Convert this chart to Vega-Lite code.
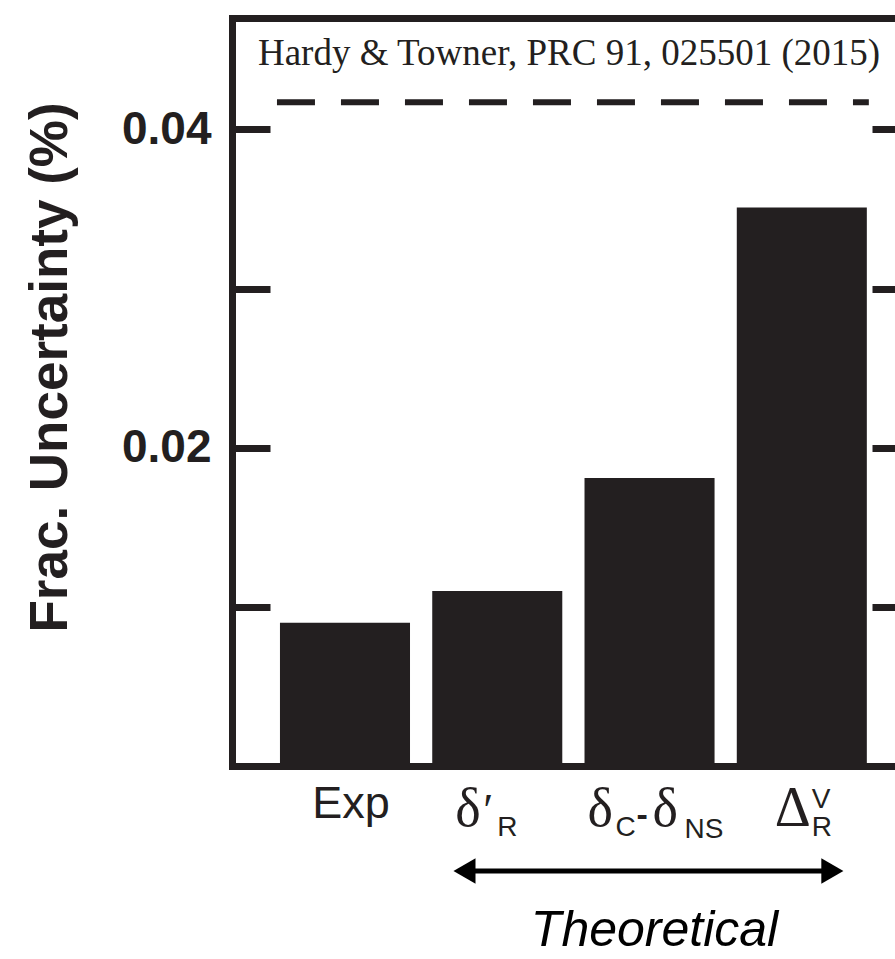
{
  "$schema": "https://vega.github.io/schema/vega-lite/v6.json",
  "width": 663,
  "height": 748,
  "autosize": {"type": "none"},
  "padding": {"left": 232, "top": 18, "right": 0, "bottom": 193},
  "background": "white",
  "config": {
    "view": {"stroke": null},
    "font": "Liberation Sans",
    "axis": {"domainColor": "#231f20", "tickColor": "#231f20", "labelColor": "#231f20", "titleColor": "#231f20", "grid": false}
  },
  "datasets": {
    "bars": [
      {"cat": "Exp", "val": 0.009},
      {"cat": "δ′R", "val": 0.011},
      {"cat": "δC-δNS", "val": 0.0181},
      {"cat": "ΔRV", "val": 0.0351}
    ],
    "limit": [{"level": 0.0417}]
  },
  "resolve": {"axis": {"x": "independent", "y": "independent"}},
  "layer": [
    {
      "data": {"name": "bars"},
      "mark": {"type": "bar", "color": "#231f20"},
      "encoding": {
        "x": {
          "field": "cat", "type": "nominal", "sort": null,
          "scale": {"domain": ["Exp", "δ′R", "δC-δNS", "ΔRV"], "paddingInner": 0.146, "paddingOuter": 0.25, "align": 0.63},
          "axis": {"orient": "bottom", "domain": true, "domainWidth": 7, "domainCap": "square", "ticks": false, "labels": false, "title": null}
        },
        "y": {
          "field": "val", "type": "quantitative",
          "scale": {"domain": [0, 0.047], "nice": false, "zero": true},
          "axis": {
            "orient": "left", "values": [0.01, 0.02, 0.03, 0.04], "format": ".2f",
            "labelExpr": "(datum.label == '0.02' || datum.label == '0.04') ? datum.label : ''",
            "domain": true, "domainWidth": 7, "domainCap": "square",
            "ticks": true, "tickSize": -38, "tickWidth": 7,
            "labelFont": "Liberation Sans", "labelFontWeight": "bold", "labelFontSize": 46, "labelPadding": 59,
            "title": "Frac. Uncertainty (%)", "titleFont": "Liberation Sans", "titleFontWeight": "bold", "titleFontSize": 53,
            "titleX": -182, "titleY": 349, "titleAngle": -90, "titleAlign": "center", "titleBaseline": "middle"
          }
        }
      }
    },
    {
      "data": {"name": "limit"},
      "mark": {"type": "rule", "strokeDash": [38, 26], "strokeWidth": 6, "color": "#231f20", "xOffset": -3, "x2Offset": 2},
      "encoding": {
        "x": {"datum": "Exp", "bandPosition": 0, "axis": {"orient": "top", "domain": true, "domainWidth": 7, "domainCap": "square", "ticks": false, "labels": false, "title": null}},
        "x2": {"datum": "ΔRV", "bandPosition": 1},
        "y": {"field": "level", "type": "quantitative", "axis": {"orient": "right", "values": [0.01, 0.02, 0.03, 0.04], "domain": false, "ticks": true, "tickSize": -23, "tickWidth": 7, "labels": false, "title": null}}
      }
    },
    {
      "data": {"values": [{"note": "Hardy & Towner, PRC 91, 025501 (2015)"}]},
      "mark": {"type": "text", "font": "Liberation Serif", "fontSize": 37, "align": "left", "baseline": "alphabetic", "dx": -22, "color": "#231f20"},
      "encoding": {
        "x": {"datum": "Exp", "bandPosition": 0, "axis": null},
        "y": {"datum": 0.04405, "axis": null},
        "text": {"field": "note"}
      }
    },
    {
      "data": {"values": [{"cat": "Exp", "txt": "Exp"}]},
      "mark": {"type": "text", "font": "Liberation Sans", "fontSize": 45, "align": "center", "baseline": "alphabetic", "dx": 6, "color": "#231f20"},
      "encoding": {"x": {"field": "cat", "type": "nominal", "axis": null}, "y": {"datum": -0.00327, "axis": null}, "text": {"field": "txt"}}
    },
    {
      "data": {"values": [{"cat": "δ′R", "txt": "δ"}]},
      "mark": {"type": "text", "font": "Liberation Serif", "fontSize": 54, "align": "left", "baseline": "alphabetic", "dx": -42, "color": "#231f20"},
      "encoding": {"x": {"field": "cat", "type": "nominal", "axis": null}, "y": {"datum": -0.00377, "axis": null}, "text": {"field": "txt"}}
    },
    {
      "data": {"values": [{"cat": "δ′R", "txt": "′"}]},
      "mark": {"type": "text", "font": "Liberation Serif", "fontSize": 46, "align": "left", "baseline": "alphabetic", "dx": -14, "color": "#231f20"},
      "encoding": {"x": {"field": "cat", "type": "nominal", "axis": null}, "y": {"datum": -0.00377, "axis": null}, "text": {"field": "txt"}}
    },
    {
      "data": {"values": [{"cat": "δ′R", "txt": "R"}]},
      "mark": {"type": "text", "font": "Liberation Sans", "fontSize": 28, "align": "left", "baseline": "alphabetic", "dx": 0, "color": "#231f20"},
      "encoding": {"x": {"field": "cat", "type": "nominal", "axis": null}, "y": {"datum": -0.0044, "axis": null}, "text": {"field": "txt"}}
    },
    {
      "data": {"values": [{"cat": "δC-δNS", "txt": "δ"}]},
      "mark": {"type": "text", "font": "Liberation Serif", "fontSize": 54, "align": "left", "baseline": "alphabetic", "dx": -62, "color": "#231f20"},
      "encoding": {"x": {"field": "cat", "type": "nominal", "axis": null}, "y": {"datum": -0.00377, "axis": null}, "text": {"field": "txt"}}
    },
    {
      "data": {"values": [{"cat": "δC-δNS", "txt": "C"}]},
      "mark": {"type": "text", "font": "Liberation Sans", "fontSize": 28, "align": "left", "baseline": "alphabetic", "dx": -34, "color": "#231f20"},
      "encoding": {"x": {"field": "cat", "type": "nominal", "axis": null}, "y": {"datum": -0.0044, "axis": null}, "text": {"field": "txt"}}
    },
    {
      "data": {"values": [{"cat": "δC-δNS", "txt": "-"}]},
      "mark": {"type": "text", "font": "Liberation Sans", "fontWeight": "bold", "fontSize": 34, "align": "left", "baseline": "alphabetic", "dx": -13, "color": "#231f20"},
      "encoding": {"x": {"field": "cat", "type": "nominal", "axis": null}, "y": {"datum": -0.00377, "axis": null}, "text": {"field": "txt"}}
    },
    {
      "data": {"values": [{"cat": "δC-δNS", "txt": "δ"}]},
      "mark": {"type": "text", "font": "Liberation Serif", "fontSize": 54, "align": "left", "baseline": "alphabetic", "dx": 3, "color": "#231f20"},
      "encoding": {"x": {"field": "cat", "type": "nominal", "axis": null}, "y": {"datum": -0.00377, "axis": null}, "text": {"field": "txt"}}
    },
    {
      "data": {"values": [{"cat": "δC-δNS", "txt": "NS"}]},
      "mark": {"type": "text", "font": "Liberation Sans", "fontSize": 28, "align": "left", "baseline": "alphabetic", "dx": 35, "color": "#231f20"},
      "encoding": {"x": {"field": "cat", "type": "nominal", "axis": null}, "y": {"datum": -0.00452, "axis": null}, "text": {"field": "txt"}}
    },
    {
      "data": {"values": [{"cat": "ΔRV", "txt": "Δ"}]},
      "mark": {"type": "text", "font": "Liberation Serif", "fontSize": 56, "align": "left", "baseline": "alphabetic", "dx": -27, "color": "#231f20"},
      "encoding": {"x": {"field": "cat", "type": "nominal", "axis": null}, "y": {"datum": -0.00377, "axis": null}, "text": {"field": "txt"}}
    },
    {
      "data": {"values": [{"cat": "ΔRV", "txt": "V"}]},
      "mark": {"type": "text", "font": "Liberation Sans", "fontSize": 28, "align": "left", "baseline": "alphabetic", "dx": 10, "color": "#231f20"},
      "encoding": {"x": {"field": "cat", "type": "nominal", "axis": null}, "y": {"datum": -0.00264, "axis": null}, "text": {"field": "txt"}}
    },
    {
      "data": {"values": [{"cat": "ΔRV", "txt": "R"}]},
      "mark": {"type": "text", "font": "Liberation Sans", "fontSize": 28, "align": "left", "baseline": "alphabetic", "dx": 10, "color": "#231f20"},
      "encoding": {"x": {"field": "cat", "type": "nominal", "axis": null}, "y": {"datum": -0.0044, "axis": null}, "text": {"field": "txt"}}
    },
    {
      "data": {"values": [{"group": "Theoretical"}]},
      "mark": {"type": "rule", "strokeWidth": 5, "color": "#000000"},
      "encoding": {
        "x": {"datum": "δ′R", "bandPosition": 0.245, "axis": null},
        "x2": {"datum": "ΔRV", "bandPosition": 0.737},
        "y": {"datum": -0.0066, "axis": null}
      }
    },
    {
      "data": {"values": [{"group": "Theoretical"}]},
      "mark": {"type": "point", "shape": "triangle-left", "size": 650, "filled": true, "opacity": 1, "color": "#000000"},
      "encoding": {
        "x": {"datum": "δ′R", "bandPosition": 0.248, "axis": null},
        "y": {"datum": -0.0066, "axis": null}
      }
    },
    {
      "data": {"values": [{"group": "Theoretical"}]},
      "mark": {"type": "point", "shape": "triangle-right", "size": 650, "filled": true, "opacity": 1, "color": "#000000"},
      "encoding": {
        "x": {"datum": "ΔRV", "bandPosition": 0.735, "axis": null},
        "y": {"datum": -0.0066, "axis": null}
      }
    },
    {
      "data": {"values": [{"group": "Theoretical"}]},
      "mark": {"type": "text", "font": "Liberation Sans", "fontStyle": "italic", "fontSize": 50, "align": "center", "baseline": "alphabetic", "dx": 5, "color": "#000000"},
      "encoding": {
        "x": {"datum": "δC-δNS", "axis": null},
        "y": {"datum": -0.0113, "axis": null},
        "text": {"field": "group"}
      }
    }
  ]
}
